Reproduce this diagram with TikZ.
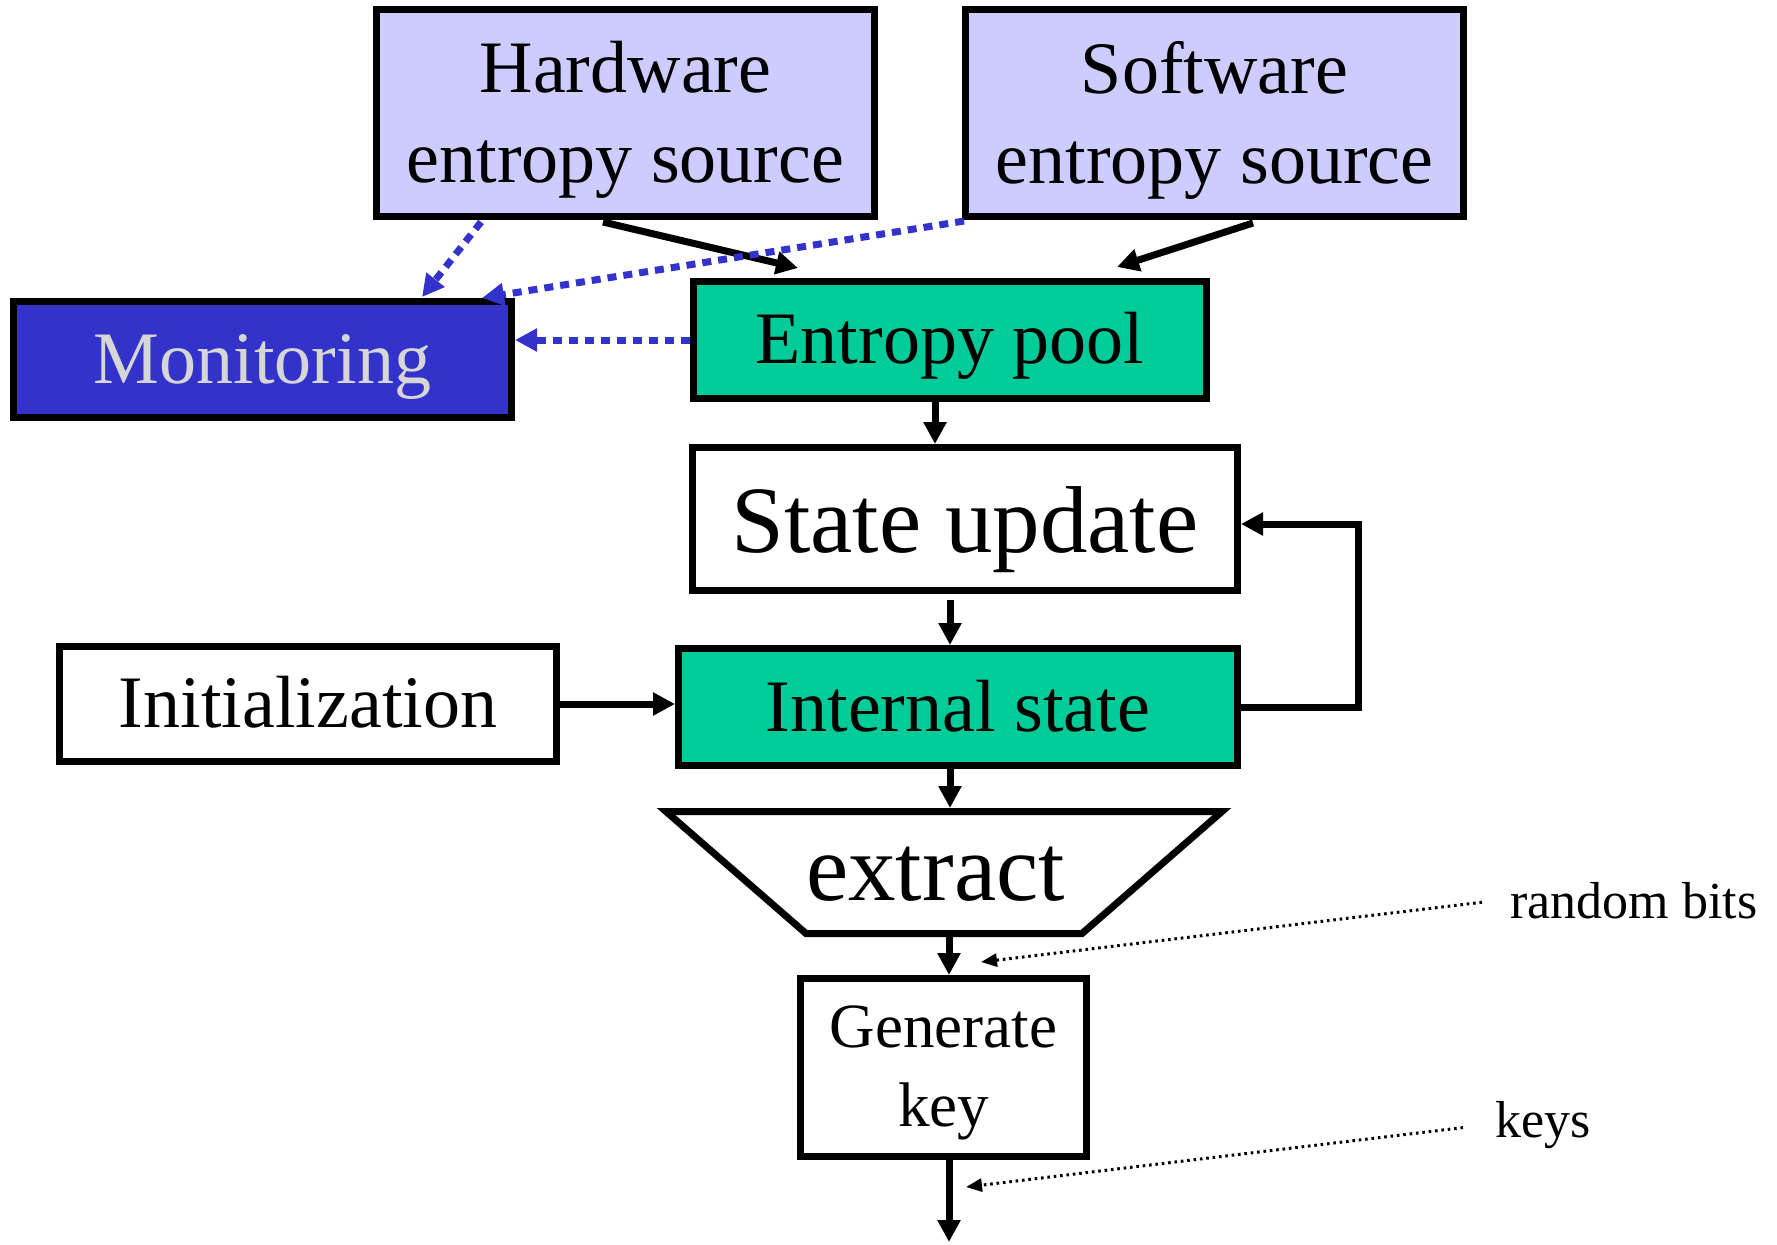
\documentclass[tikz,border=0pt]{standalone}
\usepackage{fontspec}
\setmainfont{Liberation Serif}
\usetikzlibrary{arrows.meta,calc}
\definecolor{lav}{HTML}{CCCCFF}
\definecolor{poolgreen}{HTML}{00CC99}
\definecolor{mblue}{HTML}{3333CC}
\definecolor{mgray}{HTML}{D6D6D6}
\begin{document}
\begin{tikzpicture}[x=0.5pt,y=-0.5pt,
  box/.style={draw=black,line width=3.5pt,inner sep=0pt,rectangle,text depth=0pt},
  bigtext/.style={font=\fontsize{37}{45}\selectfont},
  arr/.style={line width=3.5pt,-{Triangle[length=11pt,width=11pt]}},
  barr/.style={draw=mblue,line width=3.5pt,dash pattern=on 4.5pt off 3.5pt,-{Triangle[length=11pt,width=11pt]}},
  narr/.style={line width=1.5pt,dash pattern=on 1.3pt off 1.9pt,-{Triangle[length=8pt,width=6.5pt]}},
  annot/.style={font=\fontsize{26}{31}\selectfont,inner sep=0pt,anchor=base west},
]
\useasboundingbox (0,0) rectangle (1777,1244);

% boxes
\node[box,fill=lav,minimum width=249pt,minimum height=103.5pt] (hw) at (625.5,113) {};
\node[bigtext,align=center,inner sep=0pt] (hwt) at (625.5,120) {Hardware\\entropy source};
\node[box,fill=lav,minimum width=249pt,minimum height=103.5pt] (sw) at (1214.5,113) {};
\node[bigtext,align=center,inner sep=0pt] (swt) at (1214.5,120) {Software\\entropy source};

\node[box,fill=mblue,text=mgray,bigtext,text height=23.5pt,minimum width=249pt,minimum height=58pt] (mon) at (262.5,359.5) {Monitoring};
\node[box,fill=poolgreen,bigtext,text height=23pt,minimum width=256.5pt,minimum height=58.5pt] (pool) at (950,340) {Entropy pool};
\node[box,fill=white,font=\fontsize{47.5}{57}\selectfont,text height=33pt,minimum width=272.5pt,minimum height=71.5pt] (upd) at (965,519) {State update};
\node[box,fill=poolgreen,bigtext,text height=24pt,minimum width=279.5pt,minimum height=58.5pt] (int) at (958,707) {Internal state};
\node[box,fill=white,bigtext,text height=23pt,minimum width=248.5pt,minimum height=57.5pt] (init) at (308,704) {Initialization};

% extract trapezoid
\draw[line width=3.5pt,fill=white] (666,811.5) -- (1222,811.5) -- (1082,933.5) -- (806,933.5) -- cycle;
\node[font=\fontsize{47.5}{57}\selectfont,inner sep=0pt,anchor=base] (ext) at (935.5,900) {extract};
\coordinate (exttop) at (950,808);
\coordinate (extbot) at (949,937);

\node[box,fill=white,minimum width=143pt,minimum height=89pt] (gen) at (943.5,1067.5) {};
\node[font=\fontsize{31.5}{39.5}\selectfont,align=center,inner sep=0pt] (gent) at (943.5,1073) {Generate\\key};
\coordinate (out) at (949,1242);

% annotations
\node[annot] (rb) at (1510,918) {random bits};
\node[annot] (keys) at (1495,1137) {keys};
\coordinate (c1) at (981,962);
\coordinate (c2) at (966,1187);

% black connectors
\draw[arr] ($(hw.south)+(-22.5,2)$) -- ($(pool.north)+(-152,-10)$);
\draw[arr] ($(sw.south)+(38.5,3)$) -- ($(pool.north)+(167,-11)$);
\draw[arr] ($(pool.south)+(-15,0)$) coordinate (p1) -- (p1 |- upd.north);
\draw[arr] ($(upd.south)+(-15,6)$) coordinate (p2) -- (p2 |- int.north);
\draw[arr] (int.south -| exttop) -- (exttop);
\draw[arr] (extbot) -- (extbot |- gen.north);
\draw[arr] (gen.south -| out) -- (out);
\draw[arr] (init.east) -- (init.east -| int.west);
\draw[arr] (int.east) -- ++(117,0) |- ($(upd.east)+(0,5)$);

% blue monitoring connectors
\draw[barr] ($(hw.south)+(-144.5,2)$) -- ($(mon.north)+(159.5,-1)$);
\draw[barr] ($(sw.south west)+(2,1)$) -- ($(mon.north)+(219.5,0)$);
\draw[barr] (pool.west) -- (pool.west -| mon.east);

% annotation connectors
\draw[narr] ($(rb.west)+(-28,2)$) -- (c1);
\draw[narr] ($(keys.west)+(-32,3)$) -- (c2);
\end{tikzpicture}
\end{document}
